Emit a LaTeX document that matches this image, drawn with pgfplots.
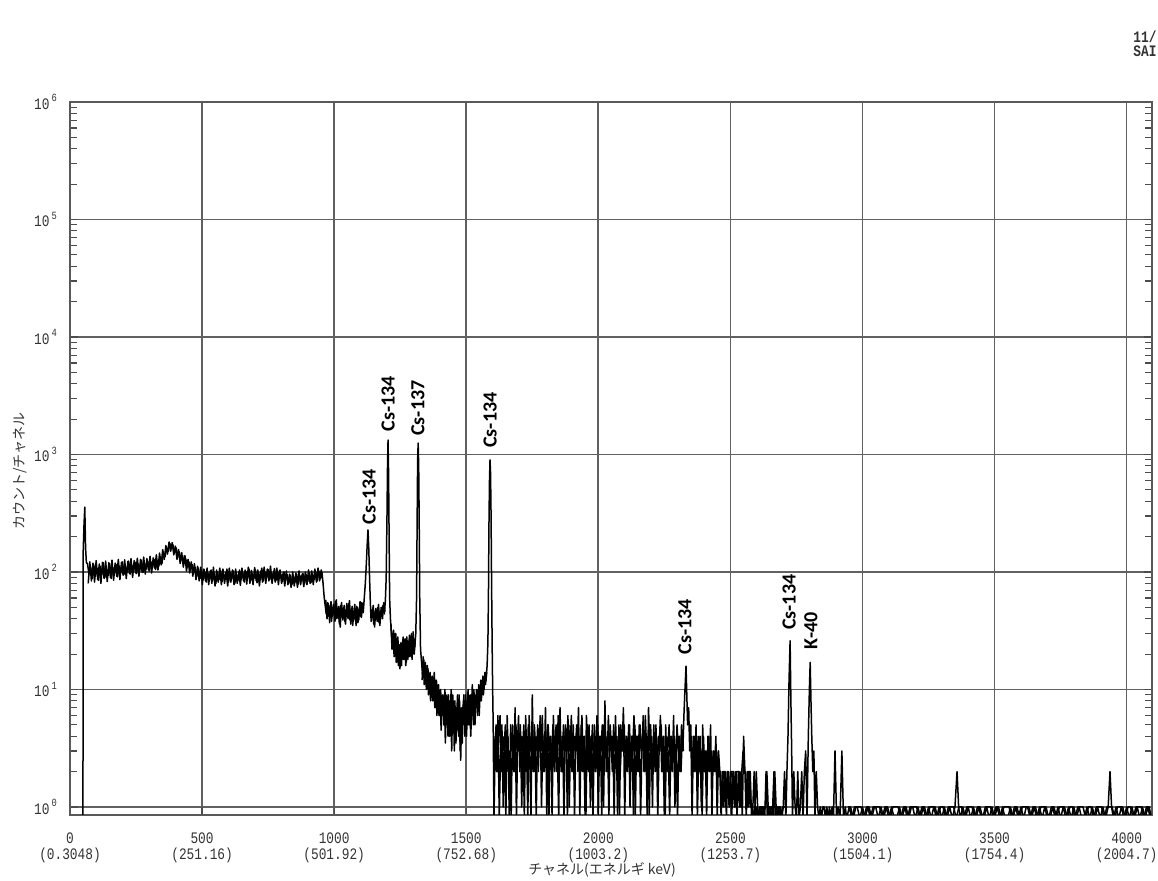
\documentclass[border=0pt]{standalone}
\usepackage{fontspec}
\usepackage{graphicx}
\usepackage{pgfplots}
\pgfplotsset{compat=1.18}
\setmainfont{Carlito}
\setmonofont{Liberation Mono}
\newfontfamily\jp{Noto Sans CJK JP}
\newcommand\xl[2]{\scalebox{0.8}[1]{\begin{tabular}{@{}c@{}}#1\\(#2)\end{tabular}}}
\newcommand\yl[1]{\scalebox{0.8}[1]{10\,\raisebox{0.9ex}{\fontsize{5.5}{6}\selectfont #1}}}
\begin{document}
\begin{tikzpicture}
\useasboundingbox (-35pt,-33pt) rectangle (544pt,407.5pt);
\begin{axis}[
  at={(0,0)}, anchor=south west,
  scale only axis, width=541pt, height=356.5pt,
  xmin=0, xmax=4096, ymode=log, ymin=0.855, ymax=1e6,
  axis line style={black!65, line width=0.8pt},
  grid=major,
  major grid style={black!62, line width=0.85pt},
  xtick={0,500,1000,1500,2000,2500,3000,3500,4000},
  xticklabels={\xl{0}{0.3048},\xl{500}{251.16},\xl{1000}{501.92},\xl{1500}{752.68},\xl{2000}{1003.2},\xl{2500}{1253.7},\xl{3000}{1504.1},\xl{3500}{1754.4},\xl{4000}{2004.7}},
  xticklabel style={font=\ttfamily\fontsize{8}{8}\selectfont, yshift=-5pt, black!80},
  ytick={1,10,100,1000,10000,100000,1000000},
  yticklabels={\yl{0},\yl{1},\yl{2},\yl{3},\yl{4},\yl{5},\yl{6}},
  yticklabel style={font=\ttfamily\fontsize{8}{8}\selectfont, xshift=-3pt, black!80},
  minor ytick={2,3,4,5,6,7,8,9,20,30,40,50,60,70,80,90,200,300,400,500,600,700,800,900,2000,3000,4000,5000,6000,7000,8000,9000,20000,30000,40000,50000,60000,70000,80000,90000,200000,300000,400000,500000,600000,700000,800000,900000},
  minor tick length=3.5pt, major tick length=4pt,
  tick style={black!70, line width=0.6pt},
  xtick pos=bottom,
  clip=true,
  spec/.style={black, line width=0.75pt, line join=round, mark=none, forget plot},
]
\addplot[spec] coordinates {
(49,0.8)(50,150)(53,250)(56,357)(59,160)(62,120)
(66,118)(72,96)(78,110)(84,88)(90,115)(96,92)(102,108)(108,85)(114,112)(120,95)(126,120)(132,90)(138,106)(144,93)(150,118)(156,88)(162,109)(168,97)(174,116)(180,91)(186,112)(192,98)(198,122)(204,95)(210,110)(216,100)(222,124)(228,96)(234,114)(240,101)(246,121)(252,97)(258,117)(264,103)(270,126)(276,99)(282,118)(288,106)(294,124)(300,102)(306,122)(312,108)(318,128)(324,105)(330,125)(336,112)(342,133)(348,118)(354,145)(360,135)(366,160)(372,150)(378,175)(384,158)(390,170)(396,148)(402,160)(408,138)(414,148)(420,126)(426,138)(432,118)(438,130)(444,110)(450,122)(456,104)(462,116)(468,98)(474,110)(480,92)(486,108)(492,88)(498,104)(504,86)(510,100)(516,82)(522,98)(528,88)(534,104)(540,84)(546,97)(552,80)(558,100)(564,86)(570,103)(576,83)(582,96)(588,87)(594,106)(600,82)(606,99)(612,88)(618,102)(624,80)(630,96)(636,85)(642,104)(648,87)(654,98)(660,82)(666,101)(672,89)(678,106)(684,84)(690,97)(696,88)(702,104)(708,81)(714,99)(720,86)(726,108)(732,84)(738,100)(744,90)(750,105)(756,86)(762,98)(768,91)(774,107)(780,85)(786,102)(792,88)(798,96)(804,83)(810,100)(816,87)(822,95)(828,80)(834,94)(840,78)(846,92)(852,82)(858,96)(864,79)(870,93)(876,84)(882,97)(888,80)(894,95)(900,83)(906,98)(912,81)(918,96)(924,86)(930,100)(936,84)(942,102)(948,88)(954,98)(958,80)(962,62)(966,52)
(970,44)(975,55)(980,42)(985,52)(990,38)(995,50)(1000,44)(1005,56)(1010,40)(1015,48)(1020,36)(1025,52)(1030,43)(1035,50)(1040,38)(1045,47)(1050,41)(1055,54)(1060,39)(1065,49)(1070,35)(1075,46)(1080,40)(1085,51)(1090,37)(1095,48)(1100,42)(1105,55)(1110,45)(1114,60)(1118,80)(1122,120)(1125,170)(1128,228)(1131,160)(1134,90)(1137,55)(1140,38)(1145,48)(1150,36)(1155,46)(1160,40)(1165,50)(1170,37)(1175,47)(1180,42)(1185,52)(1190,44)(1194,58)(1197,90)(1200,300)(1202,800)(1204,1328)(1206,700)(1208,200)(1210,60)
(1213,40)(1217,30)(1221,24)(1225,32)(1229,22)(1233,30)(1237,20)(1241,28)(1245,18)(1249,15)(1253,25)(1257,19)(1261,28)(1265,21)(1269,27)(1273,17)(1277,26)(1281,20)(1285,29)(1289,22)(1293,30)(1297,21)(1301,27)(1305,23)(1309,30)(1312,60)(1314,250)(1316,900)(1318,1250)(1320,800)(1322,250)(1324,60)(1327,22)
(1331,17)(1335,13)(1339,18)(1343,12)(1347,16)(1351,11)(1355,15)(1359,10)(1363,14)(1367,9)(1371,13)(1375,10)(1379,14)(1383,8)(1387,12)(1391,9)(1395,11)(1399,7)(1403,10)(1407,6)(1411,9)(1415,5)(1419,10)(1423,7)(1427,9)(1431,4)(1435,8)(1439,6)(1443,10)(1447,5)(1451,8)(1455,3)(1459,7)(1463,5)(1467,9)(1471,4)(1475,8)(1479,2.5)(1483,7)(1487,5)(1491,9)(1495,4)(1499,8)(1503,6)(1507,10)(1511,5)(1515,9)(1519,6)(1523,11)(1527,5)(1531,9)(1535,7)(1539,10)(1543,6)(1547,11)(1551,8)(1555,12)(1559,9)(1563,13)(1567,10)(1571,14)(1575,12)(1579,16)(1582,25)(1584,60)(1586,250)(1588,600)(1590,898)(1592,700)(1594,300)(1596,80)(1598,25)(1600,10)(1602,5)
(1605,0.8)(1610,4)(1615,2)(1620,6)(1625,0.8)(1630,3)(1635,5)(1640,1)(1645,4)(1650,0.8)(1655,6)(1660,2)(1665,3)(1670,0.8)(1675,5)(1680,2)(1685,7)(1690,0.8)(1695,4)(1700,3)(1705,5)(1710,1)(1715,4)(1720,0.8)(1725,6)(1730,2)(1735,5)(1740,3)(1745,0.8)(1750,9)(1755,2)(1760,4)(1765,0.8)(1770,5)(1775,3)(1780,6)(1785,1)(1790,4)(1795,2)(1800,7)(1805,0.8)(1810,5)(1815,3)(1820,4)(1825,0.8)(1830,6)(1835,2)(1840,5)(1845,3)(1850,0.8)(1855,7)(1860,2)(1865,4)(1870,0.8)(1875,5)(1880,3)(1885,6)(1890,1)(1895,4)(1900,2)(1905,5)(1910,0.8)(1915,4)(1920,3)(1925,7)(1930,0.8)(1935,5)(1940,2)(1945,4)(1950,0.8)(1955,6)(1960,3)(1965,5)(1970,1)(1975,4)(1980,0.8)(1985,5)(1990,2)(1995,6)(2000,0.8)(2005,4)(2010,3)(2015,5)(2020,1)(2025,8)(2030,2)(2035,4)(2040,0.8)(2045,5)(2050,3)(2055,4)(2060,0.8)(2065,6)(2070,2)(2075,4)(2080,0.8)(2085,5)(2090,3)(2095,7)(2100,0.8)(2105,4)(2110,2)(2115,5)(2120,1)(2125,4)(2130,3)(2135,6)(2140,0.8)(2145,4)(2150,2)(2155,5)(2160,0.8)(2165,3)(2170,6)(2175,2)(2180,4)(2185,0.8)(2190,7)(2195,3)(2200,4)(2205,1)(2210,5)(2215,2)(2220,4)(2225,0.8)(2230,3)(2235,6)(2240,2)(2245,4)(2250,0.8)(2255,5)(2260,2)(2265,3)(2270,0.8)(2275,4)(2280,2)(2285,6)(2290,1)(2295,3)(2300,0.8)(2305,4)(2310,2)(2315,5)(2320,3)(2324,6)(2328,10)(2332,15.8)(2335,9)(2338,5)(2342,7)(2346,3)(2350,5)(2355,0.8)(2360,4)(2365,2)(2370,5)(2375,0.8)(2380,3)(2385,4)(2390,1)(2395,5)(2400,2)(2405,3)(2410,0.8)(2415,4)(2420,2)(2425,5)(2430,0.8)(2435,3)(2440,2)(2445,4)(2450,0.8)(2455,3)(2460,2)(2465,0.8)(2470,2)(2475,1)(2480,2)(2485,0.8)(2490,2)(2495,1)(2500,2)(2505,0.8)(2510,2)(2515,1)(2520,2)(2525,0.8)(2530,2)(2535,1)(2540,2)(2545,0.8)(2550,4)(2555,2)(2560,0.8)(2565,2)(2570,1)(2575,2)(2580,0.8)(2585,1)(2590,2)(2595,0.8)(2600,1)(2605,0.8)(2610,1)(2615,0.8)(2620,1)(2625,1)(2630,0.8)(2635,2)(2640,0.8)(2645,1)(2650,1)(2655,0.8)(2660,1)(2665,2)(2670,0.8)(2675,1)(2680,1)(2685,0.8)(2690,1)(2695,0.8)(2700,1)(2705,2)(2710,0.8)(2714,2)(2718,4)(2722,12)(2726,26)(2729,8)(2732,3)(2735,0.8)(2740,2)(2745,1)(2750,0.8)(2755,2)(2760,0.8)(2765,1)(2770,2)(2775,0.8)(2780,2)(2785,3)(2790,0.8)(2795,4)(2799,10)(2802,17)(2805,8)(2808,4)(2812,2)(2816,3)(2820,0.8)(2825,2)(2830,1)(2835,0.8)(2840,1)(2845,0.8)(2850,1)(2855,1)(2860,0.8)(2865,1)(2870,0.8)(2875,1)(2880,0.8)(2885,1)(2890,0.8)(2896,3)(2902,0.8)(2908,1)(2915,0.8)(2922,3)(2928,0.8)(2935,1)
(2940,0.8)(2950,1)(2960,0.8)(2970,1)(2980,1)(2990,0.8)(3000,1)(3010,0.8)(3020,1)(3030,0.8)(3040,1)(3050,1)(3060,0.8)(3070,1)(3080,0.8)(3090,1)(3100,0.8)(3110,1)(3120,0.8)(3130,0.8)(3140,1)(3150,0.8)(3160,1)(3170,0.8)(3180,1)(3190,1)(3200,0.8)(3210,1)(3220,0.8)(3230,1)(3240,0.8)(3250,1)(3260,0.8)(3270,1)(3280,0.8)(3290,1)(3300,0.8)(3310,1)(3320,0.8)(3330,1)(3340,0.8)(3350,1)(3358,2)(3364,1)(3370,0.8)(3380,1)(3390,0.8)(3400,1)(3410,0.8)(3420,1)(3430,0.8)(3440,1)(3450,0.8)(3460,0.8)(3470,1)(3480,0.8)(3490,1)(3500,0.8)(3510,1)(3520,0.8)(3530,1)(3540,0.8)(3550,0.8)(3560,1)(3570,0.8)(3580,1)(3590,0.8)(3600,1)(3610,0.8)(3620,1)(3630,1)(3640,0.8)(3650,1)(3660,0.8)(3670,1)(3680,0.8)(3690,1)(3700,0.8)(3710,0.8)(3720,1)(3730,0.8)(3740,1)(3750,0.8)(3760,1)(3770,0.8)(3780,1)(3790,0.8)(3800,1)(3810,0.8)(3820,1)(3830,0.8)(3840,0.8)(3850,1)(3860,0.8)(3870,1)(3880,0.8)(3890,1)(3900,0.8)(3910,1)(3920,0.8)(3930,1)(3937,2)(3943,1)(3950,0.8)(3960,1)(3970,0.8)(3980,1)(3990,0.8)(4000,1)(4010,0.8)(4020,1)(4030,0.8)(4040,1)(4050,0.8)(4060,1)(4070,0.8)(4080,1)(4090,0.8)
};
% interleaved channels (second pass of the same spectrum)
\addplot[spec] coordinates {
(69,80)(75,122)(81,84)(87,119)(93,82)(99,125)(105,86)(111,117)(117,80)(123,121)(129,88)(135,124)(141,83)(147,120)(153,90)(159,126)(165,85)(171,119)(177,92)(183,128)(189,86)(195,121)(201,94)(207,127)(213,88)(219,123)(225,97)(231,130)(237,90)(243,125)(249,98)(255,131)(261,92)(267,128)(273,100)(279,134)(285,96)(291,130)(297,104)(303,136)(309,98)(315,132)(321,108)(327,140)(333,104)(339,145)(345,115)(351,155)(357,128)(363,168)(369,142)(375,180)(381,150)(387,178)(393,140)(399,166)(405,128)(411,155)(417,118)(423,146)(429,110)(435,138)(441,102)(447,128)(453,98)(459,122)(465,92)(471,118)(477,86)(483,112)(489,84)(495,110)(501,78)(507,106)(513,84)(519,108)(525,78)(531,102)(537,80)(543,110)(549,76)(555,104)(561,82)(567,108)(573,78)(579,106)(585,80)(591,100)(597,76)(603,108)(609,82)(615,104)(621,78)(627,106)(633,80)(639,100)(645,77)(651,108)(657,84)(663,104)(669,79)(675,110)(681,80)(687,103)(693,78)(699,109)(705,84)(711,104)(717,76)(723,102)(729,82)(735,110)(741,80)(747,106)(753,84)(759,112)(765,80)(771,100)(777,82)(783,108)(789,78)(795,104)(801,80)(807,98)(813,76)(819,102)(825,78)(831,96)(837,74)(843,100)(849,76)(855,98)(861,74)(867,102)(873,78)(879,96)(885,75)(891,100)(897,78)(903,104)(909,80)(915,102)(921,78)(927,106)(933,82)(939,108)(945,84)(951,104)(955,90)
};
\addplot[spec] coordinates {
(968,58)(973,40)(978,54)(983,37)(988,56)(993,42)(998,53)(1003,38)(1008,58)(1013,41)(1018,51)(1023,34)(1028,55)(1033,39)(1038,52)(1043,36)(1048,54)(1053,40)(1058,57)(1063,36)(1068,51)(1073,38)(1078,53)(1083,35)(1088,50)(1093,39)(1098,56)(1103,41)(1108,52)
};
\addplot[spec] coordinates {
(1143,42)(1148,52)(1153,34)(1158,49)(1163,38)(1168,53)(1173,35)(1178,50)(1183,40)(1188,55)(1192,46)
};
\addplot[spec] coordinates {
(1215,36)(1219,22)(1223,30)(1227,19)(1231,28)(1235,17)(1239,26)(1243,16)(1247,24)(1251,20)(1255,16)(1259,26)(1263,18)(1267,24)(1271,16)(1275,28)(1279,18)(1283,25)(1287,19)(1291,27)(1295,18)(1299,31)(1303,20)(1307,26)
};
\addplot[spec] coordinates {
(1333,12)(1337,19)(1341,11)(1345,17)(1349,10)(1353,16)(1357,9)(1361,13)(1365,8)(1369,12)(1373,8)(1377,11)(1381,7)(1385,12)(1389,6)(1393,10)(1397,6)(1401,9)(1405,4.5)(1409,8)(1413,6)(1417,9)(1421,3.5)(1425,8)(1429,5)(1433,9)(1437,4)(1441,7)(1445,3)(1449,9)(1453,5)(1457,8)(1461,3.5)(1465,7)(1469,4.5)(1473,9)(1477,3)(1481,6)(1485,3.5)(1489,8)(1493,5)(1497,9)(1501,4)(1505,7)(1509,5)(1513,8)(1517,4)(1521,7)(1525,6)(1529,10)(1533,5)(1537,8)(1541,7)(1545,9)(1549,6)(1553,10)(1557,8)(1561,11)(1565,9)(1569,12)(1573,11)(1577,14)
};
\addplot[spec] coordinates {
(1608,3)(1613,5)(1618,2)(1623,4)(1628,6)(1633,2)(1638,4)(1643,3)(1648,5)(1653,2)(1658,4)(1663,0.8)(1668,5)(1673,3)(1678,4)(1683,2)(1688,5)(1693,3)(1698,6)(1703,2)(1708,4)(1713,3)(1718,5)(1723,2)(1728,4)(1733,0.8)(1738,6)(1743,3)(1748,4)(1753,2)(1758,5)(1763,3)(1768,4)(1773,2)(1778,5)(1783,3)(1788,6)(1793,2)(1798,4)(1803,3)(1808,5)(1813,0.8)(1818,4)(1823,2)(1828,5)(1833,3)(1838,4)(1843,2)(1848,6)(1853,3)(1858,4)(1863,2)(1868,5)(1873,3)(1878,4)(1883,0.8)(1888,5)(1893,3)(1898,6)(1903,2)(1908,4)(1913,3)(1918,5)(1923,2)(1928,4)(1933,3)(1938,6)(1943,2)(1948,4)(1953,0.8)(1958,5)(1963,2)(1968,4)(1973,3)(1978,5)(1983,2)(1988,4)(1993,3)(1998,5)(2003,2)(2008,4)(2013,0.8)(2018,5)(2023,3)(2028,4)(2033,2)(2038,6)(2043,3)(2048,4)(2053,2)(2058,5)(2063,3)(2068,4)(2073,0.8)(2078,5)(2083,2)(2088,4)(2093,3)(2098,5)(2103,2)(2108,4)(2113,3)(2118,5)(2123,2)(2128,4)(2133,0.8)(2138,5)(2143,3)(2148,4)(2153,2)(2158,5)(2163,3)(2168,4)(2173,2)(2178,6)(2183,3)(2188,4)(2193,0.8)(2198,5)(2203,2)(2208,4)(2213,3)(2218,5)(2223,2)(2228,4)(2233,3)(2238,5)(2243,2)(2248,4)(2253,0.8)(2258,4)(2263,3)(2268,5)(2273,2)(2278,4)(2283,3)(2288,4)(2293,2)(2298,5)(2303,3)(2308,4)(2313,2)(2318,4)(2322,3)
};
\addplot[spec] coordinates {
(2348,3)(2353,4)(2358,2)(2363,4)(2368,3)(2373,2)(2378,4)(2383,2)(2388,3)(2393,0.8)(2398,4)(2403,2)(2408,3)(2413,2)(2418,4)(2423,2)(2428,3)(2433,2)(2438,3)(2443,2)(2448,3)(2453,2)(2458,2)(2463,2)(2468,1)(2473,2)(2478,2)(2483,1)(2488,2)(2493,2)(2498,1)(2503,2)(2508,2)(2513,2)(2518,1)(2523,2)(2528,2)(2533,2)(2538,1)(2543,2)(2548,3)(2553,2)(2558,2)(2563,1)(2568,2)(2573,2)(2578,1)(2583,1)(2588,0.8)(2593,1)(2598,2)(2603,1)(2608,0.8)(2613,1)(2618,1)(2623,0.8)(2628,1)(2633,1)(2638,2)(2643,1)(2648,0.8)(2653,1)(2658,1)(2663,0.8)(2668,2)(2673,1)(2678,0.8)(2683,1)(2688,1)(2693,0.8)(2698,1)(2703,1)(2708,1)
};
\addplot[spec] coordinates {
(2945,1)(2955,1)(2965,0.8)(2975,1)(2985,1)(2995,1)(3005,0.8)(3015,1)(3025,1)(3035,0.8)(3045,1)(3055,1)(3065,1)(3075,0.8)(3085,1)(3095,1)(3105,0.8)(3115,1)(3125,1)(3135,1)(3145,0.8)(3155,1)(3165,1)(3175,0.8)(3185,1)(3195,1)(3205,1)(3215,0.8)(3225,1)(3235,1)(3245,0.8)(3255,1)(3265,1)(3275,1)(3285,0.8)(3295,1)(3305,1)(3315,0.8)(3325,1)(3335,1)(3345,1)(3355,0.8)(3365,1)(3375,1)(3385,0.8)(3395,1)(3405,1)(3415,1)(3425,0.8)(3435,1)(3445,1)(3455,0.8)(3465,1)(3475,1)(3485,1)(3495,0.8)(3505,1)(3515,1)(3525,0.8)(3535,1)(3545,1)(3555,1)(3565,0.8)(3575,1)(3585,1)(3595,0.8)(3605,1)(3615,1)(3625,1)(3635,0.8)(3645,1)(3655,1)(3665,0.8)(3675,1)(3685,1)(3695,1)(3705,0.8)(3715,1)(3725,1)(3735,0.8)(3745,1)(3755,1)(3765,1)(3775,0.8)(3785,1)(3795,1)(3805,0.8)(3815,1)(3825,1)(3835,1)(3845,0.8)(3855,1)(3865,1)(3875,0.8)(3885,1)(3895,1)(3905,1)(3915,0.8)(3925,1)(3945,1)(3955,0.8)(3965,1)(3975,1)(3985,1)(3995,0.8)(4005,1)(4015,1)(4025,0.8)(4035,1)(4045,1)(4055,1)(4065,0.8)(4075,1)(4085,1)(4095,0.8)
};
\begin{scope}[every node/.style={rotate=90, anchor=west, inner sep=0pt, font=\bfseries\fontsize{10}{12}\selectfont}]
\node at (axis cs:1132,252) {Cs-134};
\node at (axis cs:1204,1556) {Cs-134};
\node at (axis cs:1317,1437) {Cs-137};
\node at (axis cs:1590,1135) {Cs-134};
\node at (axis cs:2328,19.7) {Cs-134};
\node at (axis cs:2722,32) {Cs-134};
\node at (axis cs:2805,21.7) {K-40};
\end{scope}
\end{axis}
\node[rotate=90, font=\jp\fontsize{7}{8}\selectfont, black!80] at (-25pt,172pt) {カウント/チャネル};
\node[font=\jp\fontsize{7}{8}\selectfont, black!80] at (266pt,-27.5pt) {チャネル(エネルギ keV)};
\node[anchor=west, inner sep=0pt, font=\ttfamily\bfseries\fontsize{8}{8}\selectfont, black!80] at (531.5pt,389pt) {\scalebox{0.8}[1]{11/}};
\node[anchor=west, inner sep=0pt, font=\ttfamily\bfseries\fontsize{8}{8}\selectfont, black!80] at (531.5pt,382pt) {\scalebox{0.8}[1]{SAI}};
\end{tikzpicture}
\end{document}
